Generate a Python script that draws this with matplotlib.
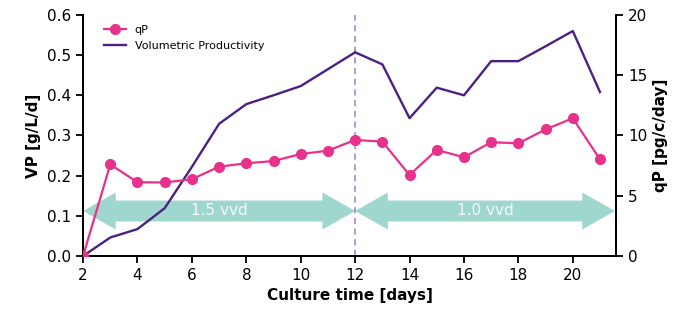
import numpy as np
import matplotlib.pyplot as plt
from matplotlib.patches import Polygon

# data
days = [2, 3, 4, 5, 6, 7, 8, 9, 10, 11, 12, 13, 14, 15, 16, 17, 18, 19, 20, 21]
vp = [0.0, 0.046, 0.067, 0.119, 0.222, 0.329, 0.378, 0.400, 0.423, 0.465, 0.507,
      0.477, 0.343, 0.419, 0.400, 0.485, 0.485, 0.522, 0.560, 0.408]
qp = [0.0, 7.6, 6.12, 6.1, 6.37, 7.41, 7.69, 7.88, 8.46, 8.74, 9.63,
      9.49, 6.72, 8.8, 8.19, 9.44, 9.35, 10.5, 11.43, 8.02]
phases = [(2, 12, '1.5 vvd'), (12, 21.55, '1.0 vvd')]

pink = '#e8318a'
purple = '#4a2183'
teal = '#9fd6ce'

fig = plt.figure(figsize=(6.81, 3.18), dpi=100)
ax = fig.add_axes([0.122, 0.195, 0.783, 0.758])
ax2 = ax.twinx()

# feed rate arrows
yc, body, head, hl = 0.112, 0.026, 0.046, 1.2
for x0, x1, label in phases:
    pts = [(x0, yc), (x0 + hl, yc + head), (x0 + hl, yc + body), (x1 - hl, yc + body),
           (x1 - hl, yc + head), (x1, yc), (x1 - hl, yc - head), (x1 - hl, yc - body),
           (x0 + hl, yc - body), (x0 + hl, yc - head)]
    ax.add_patch(Polygon(pts, closed=True, facecolor=teal, edgecolor='none', zorder=1))
    ax.text((x0 + x1) / 2, yc, label, color='#f4fbfa', fontsize=11,
            ha='center', va='center', zorder=2)

ax.axvline(12, color='#9a7fc8', linestyle=(0, (4, 3)), linewidth=1.1, zorder=2)

l1, = ax.plot(days, vp, color=purple, linewidth=1.7, zorder=3,
              label='Volumetric Productivity')
l2, = ax2.plot(days, qp, color=pink, linewidth=1.6, marker='o', markersize=7,
               label='qP', zorder=3)

ax.set_xlim(2, 21.6)
ax.set_ylim(0, 0.6)
ax2.set_ylim(0, 20)
ax.set_xticks(np.arange(2, 21, 2))
ax.set_yticks(np.arange(0, 0.61, 0.1))
ax.set_yticklabels([f'{v:.1f}' for v in np.arange(0, 0.61, 0.1)])
ax2.set_yticks(np.arange(0, 21, 5))

for a in (ax, ax2):
    a.spines['top'].set_visible(False)
    a.tick_params(labelsize=11, width=1.3, length=5)
    for s in a.spines.values():
        s.set_linewidth(1.3)

ax.set_xlabel('Culture time [days]', fontsize=11, fontweight='bold')
ax.set_ylabel('VP [g/L/d]', fontsize=11, fontweight='bold')
ax2.set_ylabel('qP [pg/c/day]', fontsize=11, fontweight='bold')

ax.legend([l2, l1], ['qP', 'Volumetric Productivity'], loc='upper left',
          frameon=False, fontsize=8, bbox_to_anchor=(0.02, 1.0))

fig.savefig('out.png', dpi=100)
